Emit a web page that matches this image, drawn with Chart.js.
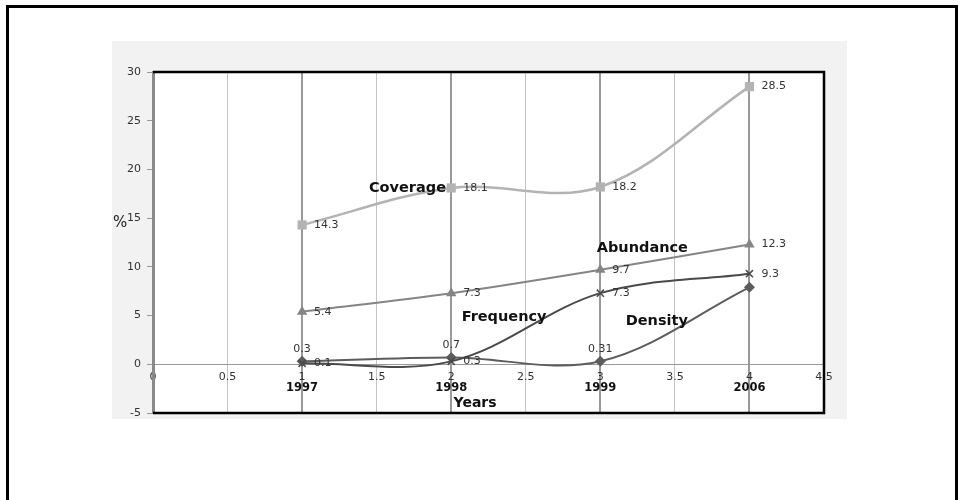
<!DOCTYPE html>
<html>
<head>
<meta charset="utf-8">
<script src="https://cdn.jsdelivr.net/npm/chart.js@4/dist/chart.umd.min.js"></script>
<style>
  html, body { margin: 0; padding: 0; background: #fff; width: 960px; height: 500px; overflow: hidden; }
  #frame { position: absolute; left: 6px; top: 5px; width: 952px; height: 620px; border: 3px solid #000; border-bottom: none; box-sizing: border-box; }
  #panel { position: absolute; left: 112px; top: 41px; width: 735px; height: 378px; background: #f2f2f2; }
  #c { position: absolute; left: 112px; top: 41px; display: block; }
</style>
</head>
<body>
<div id="frame"></div>
<div id="panel"></div>
<canvas id="c" width="735" height="400"></canvas>
<script>
// Survey years and where they sit on the numeric x axis
const years = ['1997', '1998', '1999', '2006'];
const yearPos = [1, 2, 3, 4];

// Measured values (%) per year
const coverage  = [14.3, 18.1, 18.2, 28.5];
const abundance = [5.4, 7.3, 9.7, 12.3];
const frequency = [0.1, 0.3, 7.3, 9.3];
const density   = [0.3, 0.7, 0.31, 7.9];

// Axis tick values
const xTickValues = [0, 0.5, 1, 1.5, 2, 2.5, 3, 3.5, 4, 4.5];
const yTickValues = [-5, 0, 5, 10, 15, 20, 25, 30];

const FONT = '"DejaVu Sans", Verdana, sans-serif';

const toPoints = vals => vals.map((v, i) => ({ x: yearPos[i], y: v }));

// Inline value labels, series names, year labels, axis captions and plot frame
const annotate = {
  id: 'annotate',
  beforeDraw(chart) {
    const { ctx, chartArea: a } = chart;
    ctx.save();
    ctx.fillStyle = '#fff';
    ctx.fillRect(a.left, a.top, a.right - a.left, a.bottom - a.top);
    ctx.restore();
  },
  afterDatasetsDraw(chart) {
    const { ctx, scales: { x, y } } = chart;
    ctx.save();
    ctx.font = '11px ' + FONT;
    ctx.fillStyle = '#333';
    chart.data.datasets.forEach((ds, i) => {
      const meta = chart.getDatasetMeta(i);
      meta.data.forEach((pt, j) => {
        const side = ds.labelSide[j];
        if (!side) return;
        const text = String(ds.data[j].y);
        ctx.textBaseline = 'middle';
        if (side === 'right') {
          ctx.textAlign = 'left';
          ctx.fillText(text, pt.x + 12, pt.y);
        } else {
          ctx.textAlign = 'center';
          ctx.fillText(text, pt.x, pt.y - 12);
        }
      });
    });

    // series names
    ctx.font = 'bold 14.5px ' + FONT;
    ctx.fillStyle = '#111';
    ctx.textBaseline = 'middle';
    chart.options.plugins.annotate.names.forEach(n => {
      ctx.textAlign = n.align;
      ctx.fillText(n.text, x.getPixelForValue(n.x), y.getPixelForValue(n.y));
    });
    ctx.restore();
  },
  afterDraw(chart) {
    const { ctx, chartArea: a, scales: { x, y } } = chart;
    ctx.save();
    const y0 = y.getPixelForValue(0);

    // year labels under the numeric ticks
    ctx.font = 'bold 11.5px ' + FONT;
    ctx.fillStyle = '#111';
    ctx.textAlign = 'center';
    ctx.textBaseline = 'middle';
    years.forEach((yr, i) => ctx.fillText(yr, x.getPixelForValue(yearPos[i]), y0 + 24));

    // axis captions
    ctx.font = 'bold 14px ' + FONT;
    ctx.fillText('Years', x.getPixelForValue(2.16), y0 + 39);
    ctx.font = '15px ' + FONT;
    ctx.fillStyle = '#222';
    ctx.textAlign = 'left';
    ctx.fillText('%', a.left - 40, y.getPixelForValue(14.5));

    // plot frame: top, right, bottom
    ctx.strokeStyle = '#000';
    ctx.lineWidth = 2.5;
    ctx.beginPath();
    ctx.moveTo(a.left, a.top);
    ctx.lineTo(a.right, a.top);
    ctx.lineTo(a.right, a.bottom);
    ctx.lineTo(a.left, a.bottom);
    ctx.stroke();
    ctx.restore();
  }
};

new Chart(document.getElementById('c'), {
  type: 'line',
  data: {
    datasets: [
      {
        label: 'Coverage', data: toPoints(coverage),
        borderColor: '#b3b3b3', backgroundColor: '#b3b3b3', borderWidth: 2.5,
        pointStyle: 'rect', pointRadius: 6.5, pointBorderWidth: 0,
        labelSide: ['right', 'right', 'right', 'right']
      },
      {
        label: 'Abundance', data: toPoints(abundance),
        borderColor: '#858585', backgroundColor: '#858585', borderWidth: 2,
        pointStyle: 'triangle', pointRadius: 6, pointBorderWidth: 0,
        labelSide: ['right', 'right', 'right', 'right']
      },
      {
        label: 'Frequency', data: toPoints(frequency),
        borderColor: '#4a4a4a', backgroundColor: '#4a4a4a', borderWidth: 2,
        pointStyle: 'crossRot', pointRadius: 5, pointBorderWidth: 1.5,
        labelSide: ['right', 'right', 'right', 'right']
      },
      {
        label: 'Density', data: toPoints(density),
        borderColor: '#5c5c5c', backgroundColor: '#5c5c5c', borderWidth: 2,
        pointStyle: 'rectRot', pointRadius: 5.5, pointBorderWidth: 0,
        labelSide: ['above', 'above', 'above', null]
      }
    ]
  },
  options: {
    responsive: false,
    animation: false,
    events: [],
    layout: { padding: { top: 31, right: 23, bottom: 28, left: 0 } },
    elements: { line: { tension: 0.35, fill: false } },
    plugins: {
      legend: { display: false },
      tooltip: { enabled: false },
      annotate: {
        names: [
          { text: 'Coverage',  x: 1.965, y: 18.1, align: 'right' },
          { text: 'Abundance', x: 2.976, y: 11.9, align: 'left' },
          { text: 'Frequency', x: 2.07,  y: 4.88, align: 'left' },
          { text: 'Density',   x: 3.17,  y: 4.4,  align: 'left' }
        ]
      }
    },
    scales: {
      x: {
        type: 'linear',
        position: { y: 0 },
        min: 0, max: 4.5,
        afterBuildTicks: s => { s.ticks = xTickValues.map(v => ({ value: v })); },
        ticks: { font: { family: FONT, size: 11 }, color: '#333', padding: 6, maxRotation: 0, autoSkip: false,
                 callback: v => String(v) },
        grid: {
          drawTicks: false,
          color: c => (c.tick.value === 0 || c.tick.value === 4.5) ? 'rgba(0,0,0,0)'
                      : (Number.isInteger(c.tick.value) ? '#999' : '#c4c4c4'),
          lineWidth: c => Number.isInteger(c.tick.value) ? 2 : 1
        },
        border: { display: true, color: '#999', width: 1 }
      },
      y: {
        min: -5, max: 30,
        afterBuildTicks: s => { s.ticks = yTickValues.map(v => ({ value: v })); },
        afterFit: s => { s.width = 41; },
        ticks: { font: { family: FONT, size: 11 }, color: '#333', padding: 6, callback: v => String(v) },
        grid: { drawOnChartArea: false, drawTicks: true, tickLength: 6, tickColor: '#999' },
        border: { display: true, color: '#8a8a8a', width: 3 }
      }
    }
  },
  plugins: [annotate]
});
</script>
</body>
</html>
